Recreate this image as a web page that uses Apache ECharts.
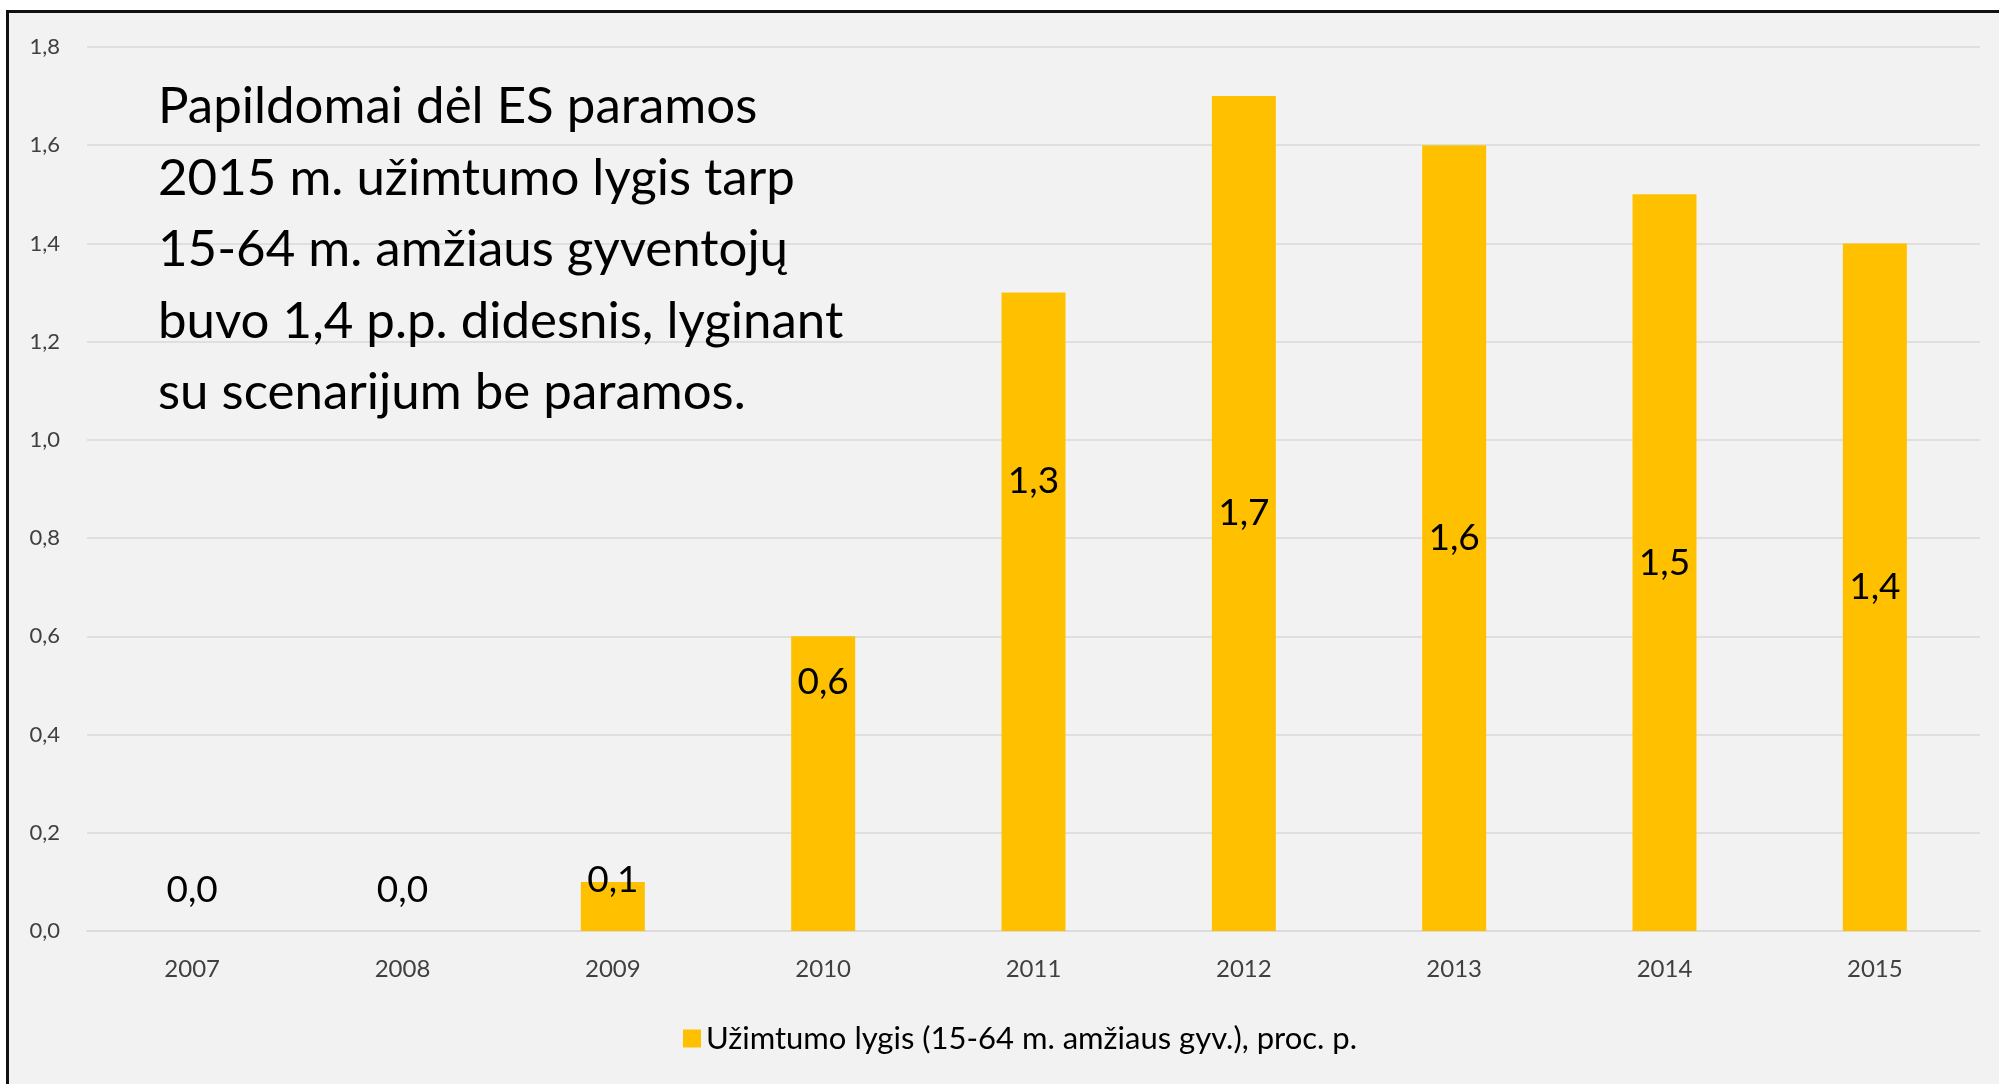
<!DOCTYPE html>
<html>
<head>
<meta charset="utf-8">
<script src="https://cdn.jsdelivr.net/npm/echarts@6/dist/echarts.min.js"></script>
<style>
  html, body { margin: 0; padding: 0; background: #ffffff; }
  .frame {
    position: absolute; left: 6px; top: 10px; width: 1993px; height: 1074px;
    border-top: 3px solid #111; border-left: 3px solid #111;
    background: #f2f2f2;
  }
  #chart { position: absolute; left: 0; top: 0; width: 1999px; height: 1084px; }
</style>
</head>
<body>
<div class="frame"></div>
<div id="chart"></div>
<script>
// metai ir reikšmės
const years = ['2007', '2008', '2009', '2010', '2011', '2012', '2013', '2014', '2015'];
const values = [0.0, 0.0, 0.1, 0.6, 1.3, 1.7, 1.6, 1.5, 1.4];
// etikečių poslinkiai (kaip originale, kai kurios pakeltos)
const labelShift = [-41, -41, -26, -102, -131, 0, 0, 0, 0];
const seriesName = 'Užimtumo lygis (15-64 m. amžiaus gyv.), proc. p.';
const note = 'Papildomai dėl ES paramos\n2015 m. užimtumo lygis tarp\n15-64 m. amžiaus gyventojų\nbuvo 1,4 p.p. didesnis, lyginant\nsu scenarijum be paramos.';

const fmt = v => v.toFixed(1).replace('.', ',');

let myChart = echarts.init(document.getElementById('chart'));
let option = {
  textStyle: { fontFamily: 'Lato' },
  title: {
    text: note,
    left: 153,
    top: 66,
    textStyle: { fontFamily: 'Lato', fontSize: 51, fontWeight: 'normal', color: '#000', lineHeight: 71.5 }
  },
  legend: {
    data: [seriesName],
    left: 678,
    top: 1018,
    icon: 'rect',
    itemWidth: 18,
    itemHeight: 18,
    itemGap: 8,
    textStyle: { fontSize: 31, color: '#000', fontFamily: 'Lato' }
  },
  grid: { left: 87, right: 19, top: 47, bottom: 153 },
  xAxis: {
    type: 'category',
    data: years,
    axisLine: { lineStyle: { color: '#d9d9d9', width: 1.5 } },
    axisTick: { show: false },
    axisLabel: { color: '#404040', fontSize: 24, margin: 26 }
  },
  yAxis: {
    type: 'value',
    min: 0,
    max: 1.8,
    interval: 0.2,
    axisLabel: { color: '#404040', fontSize: 22, margin: 27, formatter: fmt },
    splitLine: { lineStyle: { color: '#d9d9d9', width: 1.5 } }
  },
  series: [
    {
      name: seriesName,
      type: 'bar',
      barWidth: 64,
      itemStyle: { color: '#ffc000' },
      label: {
        show: true,
        position: 'inside',
        color: '#000',
        fontSize: 37,
        formatter: p => fmt(p.value)
      },
      data: values.map((v, i) => ({ value: v, label: { offset: [0, labelShift[i]] } }))
    }
  ]
};
myChart.setOption(option);
</script>
</body>
</html>
